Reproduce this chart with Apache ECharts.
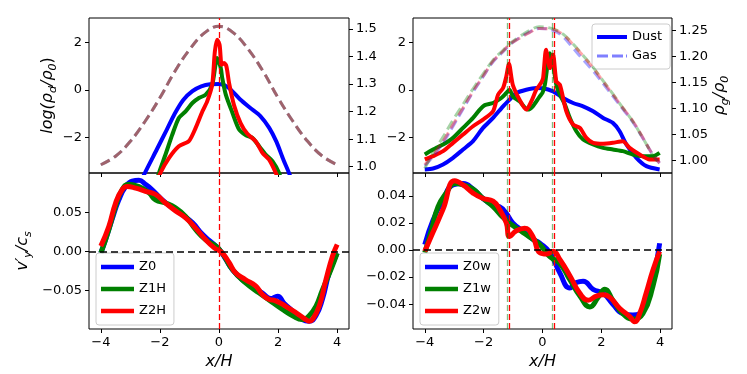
<!DOCTYPE html>
<html>
<head>
<meta charset="utf-8">
<script src="https://cdn.jsdelivr.net/npm/echarts@6/dist/echarts.min.js"></script>
<style>
  html, body { margin: 0; padding: 0; background: #fff; }
  #chart { width: 747px; height: 374px; }
</style>
</head>
<body>
<div id="chart"></div>
<script>
// shared ticks
var xTicks = [-4, -2, 0, 2, 4];
var logTicks = [-2, 0, 2];
var gasTicksL = [1.0, 1.1, 1.2, 1.3, 1.4, 1.5];
var gasTicksR = [1.00, 1.05, 1.10, 1.15, 1.20, 1.25];
var vyTicksL = [-0.05, 0, 0.05];
var vyTicksR = [-0.04, -0.02, 0, 0.02, 0.04];

// top left: dust log density
var tlBlueX = [-2.8, -2.51, -2.11, -1.77, -1.5, -1.21, -0.9, -0.6, -0.3, 0, 0.3, 0.7, 1.05, 1.4, 1.7, 1.95, 2.18, 2.37, 2.6];
var tlBlueY = [-4.3, -3.5, -2.52, -1.68, -1.0, -0.42, -0.05, 0.15, 0.24, 0.25, 0.12, -0.38, -0.75, -1.1, -1.6, -2.2, -2.94, -3.5, -4.3];
var tlGreenX = [-2.2, -2.03, -1.81, -1.58, -1.36, -1.13, -0.90, -0.68, -0.45, -0.23, -0.06, 0.06, 0.11, 0.23, 0.45, 0.68, 0.90, 1.13, 1.36, 1.58, 1.81, 2.03, 2.2];
var tlGreenY = [-4.2, -3.49, -2.72, -1.88, -1.18, -0.90, -0.55, -0.34, -0.20, 0.22, 1.35, 0.92, 0.50, -0.20, -0.95, -1.67, -1.9, -2.02, -2.37, -2.72, -3.0, -3.49, -4.2];
var tlRedX = [-2.2, -1.98, -1.69, -1.36, -1.02, -0.79, -0.56, -0.40, -0.23, -0.14, -0.06, 0.02, 0.09, 0.17, 0.25, 0.34, 0.51, 0.73, 0.96, 1.24, 1.47, 1.69, 1.92, 2.15];
var tlRedY = [-4.2, -3.49, -2.86, -2.37, -2.16, -1.60, -0.90, -0.48, 0.22, 1.62, 2.11, 1.90, 1.06, 1.13, 1.0, 0.3, -0.65, -1.4, -1.85, -2.16, -2.65, -2.93, -3.49, -4.2];

// top left: gas density (right axis)
var gasLX = [-4, -3.5, -3, -2.5, -2, -1.5, -1, -0.5, 0, 0.5, 1, 1.5, 2, 2.5, 3, 3.5, 4];
var gasL = [1.007, 1.038, 1.092, 1.165, 1.250, 1.345, 1.425, 1.485, 1.510, 1.485, 1.425, 1.345, 1.250, 1.165, 1.092, 1.038, 1.007];

// top right: dust log density
var trBlueX = [-4, -3.72, -3.38, -3.04, -2.70, -2.36, -2.02, -1.68, -1.34, -1.12, -0.89, -0.55, -0.21, 0.01, 0.36, 0.70, 1.04, 1.38, 1.72, 2.06, 2.39, 2.62, 2.85, 3.19, 3.53, 3.98];
var trBlueY = [-3.35, -3.31, -3.14, -2.86, -2.51, -2.16, -1.60, -1.18, -0.69, -0.41, -0.13, 0.01, 0.08, 0.07, -0.06, -0.34, -0.55, -0.69, -0.90, -1.18, -1.39, -1.74, -2.30, -2.86, -3.21, -3.35];
var trGreenX = [-4, -3.72, -3.38, -3.04, -2.70, -2.36, -2.13, -1.96, -1.68, -1.40, -1.23, -1.12, -1.01, -0.78, -0.50, -0.33, -0.11, 0.0, 0.08, 0.25, 0.36, 0.47, 0.59, 0.76, 0.93, 1.15, 1.38, 1.72, 2.06, 2.39, 2.73, 3.07, 3.41, 3.75, 3.98];
var trGreenY = [-2.72, -2.51, -2.30, -2.02, -1.60, -1.18, -0.83, -0.64, -0.55, -0.34, -0.13, 0.01, -0.27, -0.48, -0.83, -0.69, -0.3, -0.12, 0.22, 1.55, 1.06, 0.22, -0.20, -0.62, -1.18, -1.74, -2.09, -2.30, -2.44, -2.51, -2.58, -2.72, -2.79, -2.79, -2.65];
var trRedX = [-4, -3.72, -3.38, -3.04, -2.70, -2.36, -2.02, -1.68, -1.51, -1.34, -1.23, -1.14, -1.01, -0.78, -0.55, -0.38, -0.21, -0.05, 0.02, 0.12, 0.25, 0.36, 0.47, 0.59, 0.81, 1.04, 1.27, 1.49, 1.72, 2.06, 2.39, 2.73, 2.96, 3.30, 3.64, 3.98];
var trRedY = [-2.93, -2.79, -2.58, -2.23, -1.88, -1.53, -1.25, -0.90, -0.20, 0.08, 0.57, 1.10, 0.22, -0.41, -0.83, -0.48, 0.01, 0.29, 0.50, 1.69, 0.92, 1.48, 0.36, 0.22, -0.90, -1.46, -1.60, -2.02, -2.23, -2.27, -2.23, -2.16, -2.44, -2.72, -2.93, -2.93];

// top right: gas density (right axis)
var gasRX = [-4, -3.72, -3.38, -3.04, -2.70, -2.36, -2.02, -1.68, -1.34, -1.12, -0.78, -0.44, -0.11, 0.36, 0.70, 1.04, 1.38, 1.72, 2.06, 2.39, 2.73, 3.07, 3.41, 3.75, 3.98];
var gasRBlue = [0.990, 1.008, 1.034, 1.066, 1.099, 1.132, 1.161, 1.190, 1.209, 1.222, 1.236, 1.247, 1.254, 1.250, 1.238, 1.216, 1.194, 1.172, 1.148, 1.124, 1.099, 1.074, 1.043, 1.011, 0.995];
var gasRGreen = [0.985, 1.015, 1.045, 1.078, 1.108, 1.138, 1.166, 1.193, 1.212, 1.224, 1.238, 1.250, 1.257, 1.253, 1.243, 1.224, 1.202, 1.179, 1.153, 1.128, 1.101, 1.075, 1.043, 1.010, 0.993];
var gasRRed = [0.992, 1.011, 1.037, 1.069, 1.101, 1.133, 1.162, 1.191, 1.210, 1.223, 1.235, 1.246, 1.254, 1.252, 1.242, 1.223, 1.201, 1.178, 1.152, 1.127, 1.101, 1.076, 1.044, 1.011, 0.995];

// bottom left: v'y
var blBlueX = [-4.0, -3.84, -3.62, -3.39, -3.16, -2.94, -2.71, -2.49, -2.26, -1.92, -1.58, -1.24, -0.90, -0.56, -0.23, 0, 0.23, 0.45, 0.79, 1.13, 1.47, 1.75, 1.98, 2.2, 2.49, 2.82, 3.05, 3.28, 3.50, 3.73, 4.0];
var blBlueY = [-0.002, 0.015, 0.041, 0.066, 0.083, 0.090, 0.091, 0.086, 0.079, 0.066, 0.056, 0.047, 0.037, 0.022, 0.011, 0.003, -0.010, -0.023, -0.036, -0.044, -0.053, -0.060, -0.057, -0.066, -0.076, -0.087, -0.089, -0.082, -0.061, -0.027, -0.002];
var blGreenX = [-4.0, -3.73, -3.50, -3.28, -3.05, -2.71, -2.37, -2.15, -1.81, -1.47, -1.13, -0.79, -0.45, -0.11, 0.11, 0.45, 0.90, 1.36, 1.81, 2.15, 2.49, 2.82, 3.05, 3.28, 3.50, 3.79, 4.0];
var blGreenY = [-0.002, 0.028, 0.058, 0.079, 0.086, 0.083, 0.075, 0.066, 0.062, 0.056, 0.045, 0.028, 0.015, 0.007, -0.002, -0.023, -0.040, -0.053, -0.065, -0.074, -0.082, -0.087, -0.082, -0.070, -0.049, -0.023, -0.002];
var blRedX = [-4.0, -3.73, -3.50, -3.28, -3.11, -2.82, -2.49, -2.15, -1.81, -1.47, -1.13, -0.79, -0.45, -0.17, 0.11, 0.34, 0.56, 0.90, 1.24, 1.47, 1.69, 1.92, 2.26, 2.60, 2.94, 3.05, 3.16, 3.39, 3.62, 3.84, 4.0];
var blRedY = [0.007, 0.032, 0.062, 0.079, 0.083, 0.081, 0.077, 0.073, 0.062, 0.052, 0.043, 0.030, 0.015, 0.005, -0.002, -0.014, -0.027, -0.036, -0.044, -0.055, -0.061, -0.063, -0.070, -0.078, -0.087, -0.089, -0.087, -0.070, -0.036, -0.006, 0.009];

// bottom right: v'y
var brBlueX = [-4.0, -3.72, -3.38, -3.04, -2.70, -2.36, -2.02, -1.68, -1.46, -1.23, -1.01, -0.67, -0.33, -0.09, 0.25, 0.59, 0.93, 1.15, 1.38, 1.72, 2.06, 2.39, 2.73, 3.07, 3.30, 3.52, 3.81, 3.98];
var brBlueY = [0.004, 0.022, 0.037, 0.048, 0.049, 0.045, 0.038, 0.033, 0.032, 0.027, 0.020, 0.014, 0.008, 0.005, -0.002, -0.017, -0.028, -0.024, -0.023, -0.029, -0.032, -0.040, -0.047, -0.048, -0.047, -0.037, -0.015, 0.005];
var brGreenX = [-4.0, -3.77, -3.55, -3.27, -2.98, -2.70, -2.36, -2.02, -1.68, -1.34, -1.01, -0.67, -0.33, -0.09, 0.25, 0.59, 0.93, 1.27, 1.61, 1.89, 2.12, 2.39, 2.73, 3.07, 3.41, 3.75, 3.98];
var brGreenY = [-0.002, 0.015, 0.032, 0.042, 0.049, 0.048, 0.045, 0.038, 0.032, 0.024, 0.018, 0.013, 0.008, 0.004, -0.005, -0.010, -0.022, -0.034, -0.042, -0.035, -0.029, -0.037, -0.047, -0.051, -0.047, -0.027, -0.003];
var brRedX = [-4.0, -3.72, -3.38, -2.98, -2.70, -2.36, -2.02, -1.68, -1.46, -1.23, -1.12, -0.90, -0.61, -0.33, -0.09, 0.14, 0.36, 0.59, 0.93, 1.27, 1.55, 1.83, 2.06, 2.29, 2.62, 2.96, 3.13, 3.30, 3.52, 3.75, 3.98];
var brRedY = [-0.001, 0.013, 0.030, 0.051, 0.048, 0.042, 0.038, 0.036, 0.030, 0.020, 0.010, 0.014, 0.016, 0.010, -0.002, -0.003, -0.001, -0.007, -0.019, -0.032, -0.037, -0.034, -0.033, -0.035, -0.043, -0.049, -0.053, -0.047, -0.032, -0.015, -0.001];

// vertical marker lines
var leftRedV = [0];
var rightRedV = [-1.12, 0.41];
var rightGreenV = [-1.19, 0.32];

var FONT = 'DejaVu Sans';
var BLUE = '#0000ff', GREEN = '#008000', RED = '#ff0000';
var SOLID_ICON = 'path://M0,0h30v4h-30z';
var DASH_ICON = 'path://M0,0h11v3h-11z M15,0h11v3h-11z M29,0h1v3h-1z';

function zip(xs, ys) {
  return xs.map(function (x, i) { return [x, ys[i]]; });
}
function fmt(n) {
  return function (v) { return v.toFixed(n).replace('-', '\u2212'); };
}

function dust(name, xs, ys, color, xi, yi, w, z, sm) {
  return {
    name: name, type: 'line', xAxisIndex: xi, yAxisIndex: yi,
    data: zip(xs, ys), showSymbol: false, symbol: 'none',
    smooth: sm, z: z,
    lineStyle: { color: color, width: w },
    itemStyle: { color: color }
  };
}
function gas(name, xs, ys, color, xi, yi) {
  return {
    name: name, type: 'line', xAxisIndex: xi, yAxisIndex: yi,
    data: zip(xs, ys), showSymbol: false, symbol: 'none',
    smooth: 0.4, z: 6,
    lineStyle: { color: color, width: 3, type: [10, 5], opacity: 0.35 },
    itemStyle: { color: color, opacity: 0.5 }
  };
}
function marks(xi, yi, vlines, hline) {
  var data = [];
  vlines.forEach(function (v) {
    v.vals.forEach(function (x) {
      data.push({ xAxis: x, lineStyle: { color: v.color, width: 1.3, type: [6, 3] } });
    });
  });
  if (hline) data.push({ yAxis: 0, lineStyle: { color: '#000', width: 1.5, type: [7, 4] } });
  return {
    type: 'line', xAxisIndex: xi, yAxisIndex: yi, data: [], z: 20, silent: true,
    markLine: { symbol: 'none', silent: true, animation: false, label: { show: false }, data: data }
  };
}

function xAxis(gi, labels) {
  return {
    type: 'value', gridIndex: gi, min: -4.4, max: 4.4,
    splitLine: { show: false },
    axisLine: { show: false, onZero: false },
    axisTick: { show: true, length: 4, customValues: xTicks, lineStyle: { color: '#000' } },
    axisLabel: { show: labels, customValues: xTicks, formatter: fmt(0), color: '#000', fontFamily: FONT, fontSize: 13, margin: 7 },
    name: labels ? '{i|x/H}' : '', nameLocation: 'middle', nameGap: 25,
    nameTextStyle: { rich: { i: { fontFamily: FONT, fontStyle: 'italic', fontSize: 16, color: '#000' } } }
  };
}
function yAxis(gi, pos, min, max, ticks, dec, name, gap) {
  return {
    type: 'value', gridIndex: gi, position: pos, min: min, max: max,
    splitLine: { show: false },
    axisLine: { show: false, onZero: false },
    axisTick: { show: true, length: 4, customValues: ticks, lineStyle: { color: '#000' } },
    axisLabel: { customValues: ticks, formatter: fmt(dec), color: '#000', fontFamily: FONT, fontSize: 13, margin: 7 },
    name: name || '', nameLocation: 'middle', nameGap: gap || 30, nameRotate: 90,
    nameTextStyle: {
      color: '#000',
      rich: {
        i: { fontFamily: FONT, fontStyle: 'italic', fontSize: 16, color: '#000', lineHeight: 22 },
        n: { fontFamily: FONT, fontSize: 16, color: '#000', lineHeight: 22 },
        s: { fontFamily: FONT, fontStyle: 'italic', fontSize: 11, color: '#000', verticalAlign: 'bottom', lineHeight: 14 }
      }
    }
  };
}

var gridBox = { show: true, borderColor: '#000', borderWidth: 1, backgroundColor: 'transparent', containLabel: false };
function grid(l, t, w, h) {
  return Object.assign({ left: l, top: t, width: w, height: h }, gridBox);
}

function legendBox(items, left, top, w, h, gap, lh) {
  return {
    data: items, left: left, top: top, orient: 'vertical',
    itemWidth: w, itemHeight: h, itemGap: gap,
    padding: [6, 8, 6, 5],
    backgroundColor: 'rgba(255,255,255,0.8)', borderColor: '#cccccc', borderWidth: 1, borderRadius: 3,
    textStyle: { fontFamily: FONT, fontSize: 13, color: '#000', lineHeight: lh },
    selectedMode: false
  };
}
function solidItems(names) {
  return names.map(function (n) { return { name: n, icon: SOLID_ICON }; });
}

var chart = echarts.init(document.getElementById('chart'), null, { renderer: 'canvas' });
chart.setOption({
  animation: false,
  backgroundColor: '#fff',
  grid: [
    grid(89, 18, 260, 155),
    grid(89, 173, 260, 156),
    grid(413, 18, 259, 155),
    grid(413, 173, 259, 156)
  ],
  xAxis: [xAxis(0, false), xAxis(1, true), xAxis(2, false), xAxis(3, true)],
  yAxis: [
    yAxis(0, 'left', -3.5, 3.03, logTicks, 0, '{i|log(\u03c1}{s|d}{i|/\u03c1}{s|0}{n|)}', 28),
    yAxis(0, 'right', 0.977, 1.54, gasTicksL, 1),
    yAxis(1, 'left', -0.099, 0.1004, vyTicksL, 2, '{i|v\u2032}{s|y}{i|/c}{s|s}', 55),
    yAxis(2, 'left', -3.5, 3.03, logTicks, 0),
    yAxis(2, 'right', 0.976, 1.274, gasTicksR, 2, '{i|\u03c1}{s|g}{i|/\u03c1}{s|0}', 37),
    yAxis(3, 'left', -0.0583, 0.0568, vyTicksR, 2)
  ],
  legend: [
    legendBox([{ name: 'Dust', icon: SOLID_ICON }, { name: 'Gas', icon: DASH_ICON, itemStyle: { opacity: 0.5 } }], 592, 24, 30, 4, 5, 14),
    legendBox(solidItems(['Z0', 'Z1H', 'Z2H']), 96, 253, 33, 5, 6, 16),
    legendBox(solidItems(['Z0w', 'Z1w', 'Z2w']), 420, 253, 33, 5, 6, 16)
  ],
  series: [
    dust('tl0', tlBlueX, tlBlueY, BLUE, 0, 0, 4, 2, 0.25),
    dust('tl1', tlGreenX, tlGreenY, GREEN, 0, 0, 4, 3, 0.25),
    dust('tl2', tlRedX, tlRedY, RED, 0, 0, 4, 4, 0.25),
    gas('tlg0', gasLX, gasL, BLUE, 0, 1),
    gas('tlg1', gasLX, gasL, GREEN, 0, 1),
    gas('tlg2', gasLX, gasL, RED, 0, 1),
    marks(0, 0, [{ vals: leftRedV, color: RED }], false),

    dust('Z0', blBlueX, blBlueY, BLUE, 1, 2, 5, 2, 0.5),
    dust('Z1H', blGreenX, blGreenY, GREEN, 1, 2, 5, 3, 0.5),
    dust('Z2H', blRedX, blRedY, RED, 1, 2, 5, 4, 0.5),
    marks(1, 2, [{ vals: leftRedV, color: RED }], true),

    dust('Dust', trBlueX, trBlueY, BLUE, 2, 3, 4, 2, 0.25),
    dust('tr1', trGreenX, trGreenY, GREEN, 2, 3, 4, 3, 0.25),
    dust('tr2', trRedX, trRedY, RED, 2, 3, 4, 4, 0.25),
    gas('Gas', gasRX, gasRBlue, BLUE, 2, 4),
    gas('trg1', gasRX, gasRGreen, GREEN, 2, 4),
    gas('trg2', gasRX, gasRRed, RED, 2, 4),
    marks(2, 3, [{ vals: rightGreenV, color: 'rgba(0,128,0,0.5)' }, { vals: rightRedV, color: RED }], false),

    dust('Z0w', brBlueX, brBlueY, BLUE, 3, 5, 5, 2, 0.5),
    dust('Z1w', brGreenX, brGreenY, GREEN, 3, 5, 5, 3, 0.5),
    dust('Z2w', brRedX, brRedY, RED, 3, 5, 5, 4, 0.5),
    marks(3, 5, [{ vals: rightGreenV, color: 'rgba(0,128,0,0.5)' }, { vals: rightRedV, color: RED }], true)
  ]
});
</script>
</body>
</html>
